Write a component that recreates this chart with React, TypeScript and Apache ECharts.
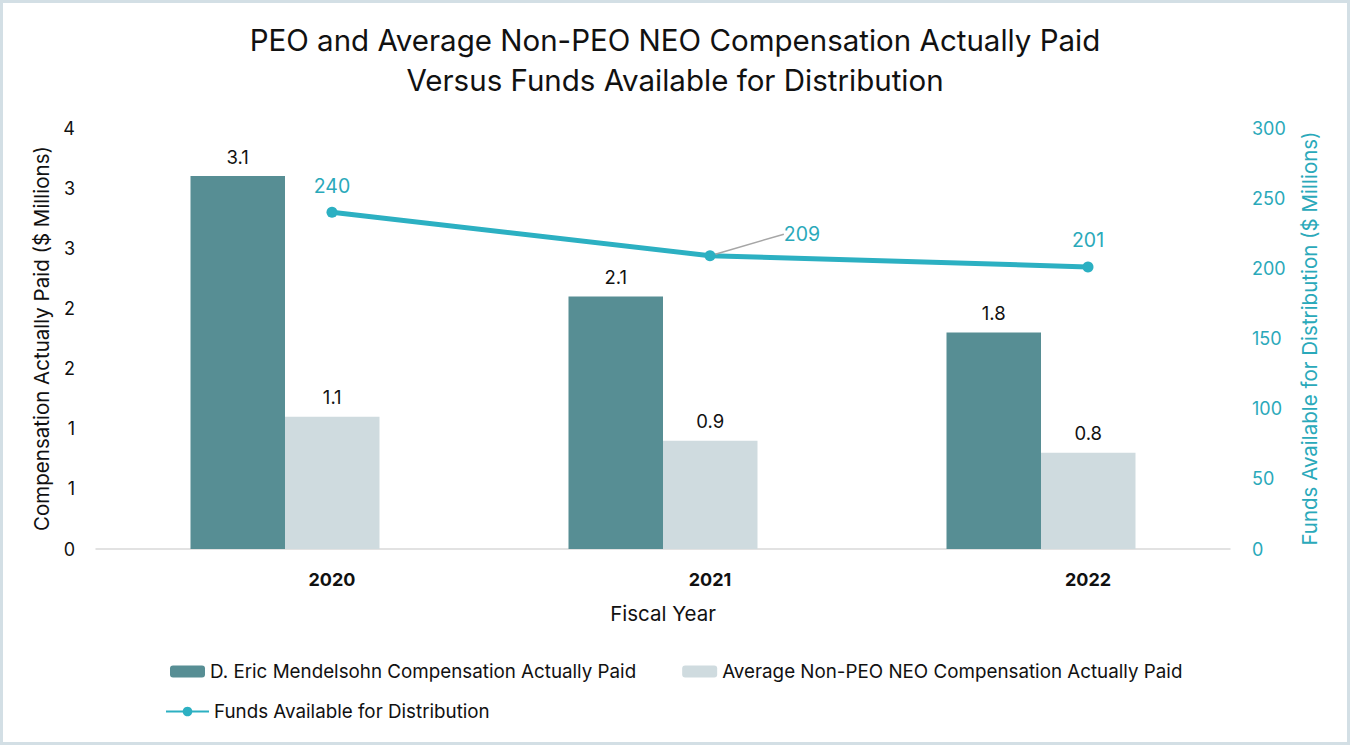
import React, { useEffect, useRef } from "react";
import * as echarts from "echarts";

const years = ["2020", "2021", "2022"];
const peoPaid = [3.1, 2.1, 1.8];
const neoPaid = [1.1, 0.9, 0.8];
const fundsAvailable = [240, 209, 201];
const leftTicks = { min: 0, max: 3.5, interval: 0.5 };
const rightTicks = { min: 0, max: 300, interval: 50 };

const seriesNames = [
  "D. Eric Mendelsohn Compensation Actually Paid",
  "Average Non-PEO NEO Compensation Actually Paid",
  "Funds Available for Distribution",
];

const DARK = "#578E94";
const LIGHT = "#CFDBDF";
const TEAL = "#2CB0C2";
const TEAL_TEXT = "#2AA9BA";
const INK = "#111111";
const FONT = "Inter, 'Liberation Sans', Arial, sans-serif";

export default function App() {
  const ref = useRef<HTMLDivElement>(null);
  useEffect(() => {
    if (!ref.current) return;
    const chart = echarts.init(ref.current, undefined, { renderer: "svg" });
    const option: any = {
      animation: false,
      backgroundColor: "#ffffff",
      textStyle: { fontFamily: FONT },
      title: {
        text: "PEO and Average Non-PEO NEO Compensation Actually Paid\nVersus Funds Available for Distribution",
        left: "center",
        top: 15,
        textStyle: { fontSize: 29.5, fontWeight: "normal", color: INK, lineHeight: 40, fontFamily: FONT },
      },
      graphic: [
        {
          type: "rect",
          shape: { x: 1.5, y: 1.5, width: 1347, height: 742 },
          style: { fill: "none", stroke: "#D3DFE5", lineWidth: 3 },
          silent: true,
        },
      ],
      legend: [
        {
          data: [seriesNames[0], seriesNames[1]],
          left: 170,
          top: 662,
          padding: 0,
          itemWidth: 35,
          itemHeight: 12,
          itemGap: 46,
          textStyle: { fontSize: 18.8, color: INK, fontFamily: FONT },
        },
        {
          data: [seriesNames[2]],
          left: 165,
          top: 702,
          padding: 0,
          itemWidth: 43,
          itemHeight: 12,
          textStyle: { fontSize: 18.8, color: INK, fontFamily: FONT },
        },
      ],
      grid: [
        { left: 96, right: 120, top: 128, bottom: 196 },
        { left: 143, right: 73, top: 128, bottom: 196 },
      ],
      xAxis: [
        {
          type: "category",
          gridIndex: 0,
          data: years,
          axisTick: { show: false },
          axisLabel: { show: false },
          axisLine: { lineStyle: { color: "#D9D9D9", width: 1.5 } },
          name: "Fiscal Year",
          nameLocation: "middle",
          nameGap: 54,
          nameTextStyle: { fontSize: 20.5, color: INK, fontFamily: FONT },
        },
        {
          type: "category",
          gridIndex: 1,
          data: years,
          axisTick: { show: false },
          axisLine: { show: false },
          axisLabel: { fontSize: 18, fontWeight: "bold", color: INK, margin: 21, fontFamily: FONT },
        },
      ],
      yAxis: [
        {
          type: "value",
          gridIndex: 0,
          position: "left",
          min: leftTicks.min,
          max: leftTicks.max,
          interval: leftTicks.interval,
          splitLine: { show: false },
          axisLine: { show: false },
          axisTick: { show: false },
          axisLabel: {
            fontSize: 18,
            color: INK,
            margin: 21,
            fontFamily: FONT,
            formatter: (v: number) => String(Math.round(v)),
          },
          name: "Compensation Actually Paid ($ Millions)",
          nameLocation: "middle",
          nameGap: 43,
          nameTextStyle: { fontSize: 20.5, color: INK, fontFamily: FONT },
        },
        {
          type: "value",
          gridIndex: 0,
          position: "right",
          min: rightTicks.min,
          max: rightTicks.max,
          interval: rightTicks.interval,
          splitLine: { show: false },
          axisLine: { show: false },
          axisTick: { show: false },
          axisLabel: { fontSize: 18, color: TEAL_TEXT, margin: 22, fontFamily: FONT },
          name: "Funds Available for Distribution ($ Millions)",
          nameLocation: "middle",
          nameGap: 69,
          nameTextStyle: { fontSize: 20.5, color: TEAL_TEXT, fontFamily: FONT },
        },
        {
          type: "value",
          gridIndex: 1,
          min: rightTicks.min,
          max: rightTicks.max,
          show: false,
        },
      ],
      series: [
        {
          name: seriesNames[0],
          type: "bar",
          xAxisIndex: 0,
          yAxisIndex: 0,
          data: peoPaid,
          barGap: "0%",
          barCategoryGap: "50%",
          itemStyle: { color: DARK },
          label: { show: true, position: "top", distance: 10, fontSize: 18.5, color: INK, fontFamily: FONT },
        },
        {
          name: seriesNames[1],
          type: "bar",
          xAxisIndex: 0,
          yAxisIndex: 0,
          data: neoPaid,
          barGap: "0%",
          barCategoryGap: "50%",
          itemStyle: { color: LIGHT },
          label: { show: true, position: "top", distance: 10, fontSize: 18.5, color: INK, fontFamily: FONT },
        },
        {
          name: seriesNames[2],
          type: "line",
          xAxisIndex: 1,
          yAxisIndex: 2,
          data: fundsAvailable.map((v, i) =>
            i === 1
              ? { value: v, labelLine: { show: true, lineStyle: { color: "#A6A6A6", width: 1.5 } } }
              : v
          ),
          symbol: "circle",
          symbolSize: 11,
          lineStyle: { color: TEAL, width: 5 },
          itemStyle: { color: TEAL },
          label: { show: true, position: "top", distance: 11, fontSize: 19.5, color: TEAL_TEXT, fontFamily: FONT },
          labelLayout: (params: any) => (params.dataIndex === 1 ? { dx: 92, dy: 5 } : {}),
        },
      ],
    };
    chart.setOption(option);
    return () => chart.dispose();
  }, []);
  return (
    <div
      ref={ref}
      style={{ position: "fixed", left: 0, top: 0, width: 1350, height: 745 }}
    />
  );
}
